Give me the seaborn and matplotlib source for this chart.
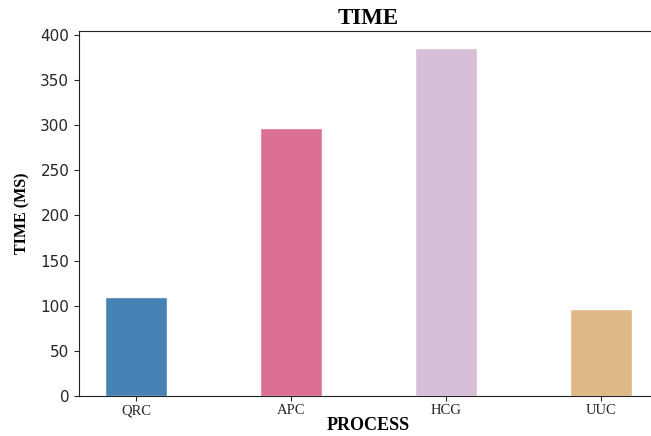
import matplotlib
matplotlib.use("Agg")
import matplotlib.pyplot as plt
import seaborn as sns

# Chart data
processes = ["QRC", "APC", "HCG", "UUC"]
times_ms = [110, 297, 385, 96]
bar_colors = ["#4682B4", "#DB7093", "#D8BFD8", "#DEB887"]

SERIF = ["Liberation Serif", "DejaVu Serif"]


def main():
    sns.set_style("ticks")
    plt.rcParams["font.family"] = ["DejaVu Sans"]

    fig = plt.figure(figsize=(6.51, 4.36), dpi=100)
    # axes run slightly past the right edge, as in the reference crop
    ax = fig.add_axes([0.1214, 0.0917, 0.8894, 0.8372])

    sns.barplot(x=processes, y=times_ms, hue=processes, palette=bar_colors,
                width=0.4, saturation=1, legend=False, ax=ax)
    ax.set_xlim(-0.37, 3.37)

    # Aesthetics
    ax.set_title("TIME", family=SERIF, fontweight="bold", fontsize=16.5,
                 color="black", pad=5)
    ax.set_ylabel("TIME (MS)", family=SERIF, fontweight="bold", fontsize=11.5,
                  color="black", labelpad=7)
    ax.set_xlabel("PROCESS", family=SERIF, fontweight="bold", fontsize=13,
                  color="black", labelpad=0)
    ax.tick_params(axis="y", labelsize=11)
    ax.tick_params(axis="x", labelsize=10.5, pad=2.5)
    for lbl in ax.get_xticklabels():
        lbl.set_family(SERIF)
    for side in ("left", "bottom", "top"):
        ax.spines[side].set_color("#222222")

    fig.savefig("out.png", dpi=100)


if __name__ == "__main__":
    main()
